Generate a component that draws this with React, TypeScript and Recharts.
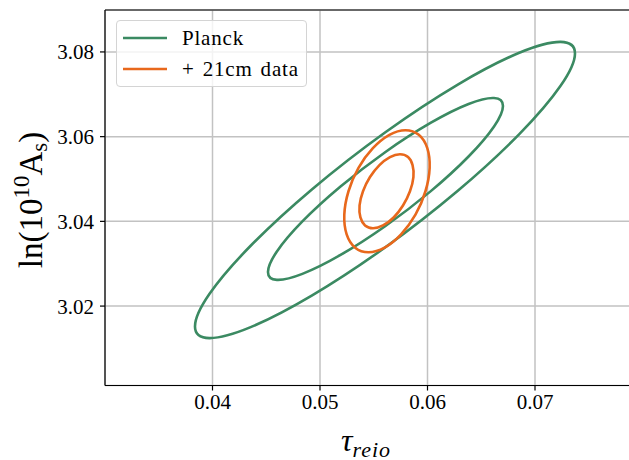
import React from 'react';
import { ComposedChart, Line, XAxis, YAxis, CartesianGrid, ReferenceLine } from 'recharts';

// contour points (tau_reio, ln(10^10 A_s)), walked around each curve
const planck2sigTau = [0.07372, 0.07238, 0.06854, 0.06282, 0.05605, 0.04927, 0.04355, 0.03971, 0.03837, 0.03971, 0.04355, 0.04927, 0.05605, 0.06282, 0.06854, 0.07238];
const planck2sigLnAs = [3.07965, 3.08238, 3.07981, 3.0723, 3.06099, 3.0476, 3.03424, 3.02283, 3.01518, 3.01244, 3.01502, 3.02253, 3.03384, 3.04723, 3.06059, 3.072];

const planck1sigTau = [0.06702, 0.06619, 0.06382, 0.06028, 0.05609, 0.05191, 0.04836, 0.04599, 0.04516, 0.04599, 0.04836, 0.05191, 0.05609, 0.06028, 0.06382, 0.06619];
const planck1sigLnAs = [3.06725, 3.06911, 3.0677, 3.06323, 3.05639, 3.04822, 3.03998, 3.03289, 3.02805, 3.02619, 3.0276, 3.03207, 3.03891, 3.04708, 3.05532, 3.06241];

const cm21_2sigTau = [0.05795, 0.05919, 0.05998, 0.0602, 0.05981, 0.05888, 0.05754, 0.05601, 0.05451, 0.05327, 0.05248, 0.05226, 0.05265, 0.05358, 0.05492, 0.05646];
const cm21_2sigLnAs = [3.06151, 3.06042, 3.05728, 3.05263, 3.04711, 3.04158, 3.03693, 3.03379, 3.0327, 3.03379, 3.03693, 3.04158, 3.04711, 3.05263, 3.05728, 3.06042];

const cm21_1sigTau = [0.05744, 0.05819, 0.05861, 0.05869, 0.05837, 0.05772, 0.05685, 0.05586, 0.05493, 0.05419, 0.05376, 0.05368, 0.054, 0.05465, 0.05553, 0.05651];
const cm21_1sigLnAs = [3.05584, 3.05518, 3.05329, 3.05046, 3.04711, 3.04375, 3.04092, 3.03903, 3.03837, 3.03903, 3.04092, 3.04375, 3.04711, 3.05046, 3.05329, 3.05518];

const xTicks = [0.04, 0.05, 0.06, 0.07];
const yTicks = [3.02, 3.04, 3.06, 3.08];
const xDomain = [0.03, 0.08];
const yDomain = [3.00125, 3.0899];

const GREEN = '#3b8a62';
const ORANGE = '#e8681c';
const FONT = '"Liberation Serif", "Times New Roman", serif';

const toRows = (tau: number[], lnAs: number[]) => tau.map((t, i) => ({ x: t, y: lnAs[i] }));

// closed catmull-rom so the contours come out as smooth loops
const closedCurve = (context: any) => {
  let pts: number[][] = [];
  return {
    areaStart() {},
    areaEnd() {},
    lineStart() { pts = []; },
    point(x: number, y: number) { pts.push([+x, +y]); },
    lineEnd() {
      const n = pts.length;
      if (!n) return;
      context.moveTo(pts[0][0], pts[0][1]);
      for (let i = 0; i < n; i++) {
        const p0 = pts[(i - 1 + n) % n];
        const p1 = pts[i];
        const p2 = pts[(i + 1) % n];
        const p3 = pts[(i + 2) % n];
        context.bezierCurveTo(
          p1[0] + (p2[0] - p0[0]) / 6, p1[1] + (p2[1] - p0[1]) / 6,
          p2[0] - (p3[0] - p1[0]) / 6, p2[1] - (p3[1] - p1[1]) / 6,
          p2[0], p2[1]
        );
      }
      context.closePath();
    },
  };
};

const XTitle = () => (
  <text x={366} y={450.5} textAnchor="middle" fontFamily={FONT} fontStyle="italic" fontSize={32} fill="#000">
    τ<tspan fontSize={22} dy={6} letterSpacing={1}>reio</tspan>
  </text>
);

const YTitle = () => (
  <text transform="translate(42,200) rotate(-90)" textAnchor="middle" fontFamily={FONT} fontSize={33} fill="#000">
    ln(10<tspan fontSize={23} dy={-13}>10</tspan>
    <tspan dy={13}>A</tspan>
    <tspan fontSize={23} dy={5}>s</tspan>
    <tspan dy={-5}>)</tspan>
  </text>
);

const series = [
  { name: 'planck2', rows: toRows(planck2sigTau, planck2sigLnAs), color: GREEN },
  { name: 'planck1', rows: toRows(planck1sigTau, planck1sigLnAs), color: GREEN },
  { name: 'cm21_2', rows: toRows(cm21_2sigTau, cm21_2sigLnAs), color: ORANGE },
  { name: 'cm21_1', rows: toRows(cm21_1sigTau, cm21_1sigLnAs), color: ORANGE },
];

export default function App() {
  const tickStyle = { fontFamily: FONT, fontSize: 21, fill: '#000' };
  return (
    <div style={{ position: 'absolute', left: 0, top: 0, width: 629, height: 460, overflow: 'hidden', background: '#fff' }}>
      <ComposedChart width={700} height={460} margin={{ top: 10, right: 57.5, bottom: 0, left: 0 }}>
        <CartesianGrid stroke="#c2c2c2" strokeWidth={1.5} />
        <XAxis
          dataKey="x"
          type="number"
          domain={xDomain}
          ticks={xTicks}
          allowDataOverflow
          height={74.5}
          tickSize={5}
          tickMargin={4}
          tick={tickStyle}
          tickFormatter={(v: number) => v.toFixed(2)}
          axisLine={{ stroke: '#000', strokeWidth: 1.2 }}
          tickLine={{ stroke: '#000', strokeWidth: 1.2 }}
          label={<XTitle />}
        />
        <YAxis
          dataKey="y"
          type="number"
          domain={yDomain}
          ticks={yTicks}
          allowDataOverflow
          width={105}
          tickSize={5}
          tickMargin={6}
          tick={tickStyle}
          tickFormatter={(v: number) => v.toFixed(2)}
          axisLine={{ stroke: '#000', strokeWidth: 1.2 }}
          tickLine={{ stroke: '#000', strokeWidth: 1.2 }}
          label={<YTitle />}
        />
        <ReferenceLine y={yDomain[1]} stroke="#000" strokeWidth={1.2} />
        {series.map((s) => (
          <Line
            key={s.name}
            data={s.rows}
            dataKey="y"
            type={closedCurve as any}
            stroke={s.color}
            strokeWidth={2.6}
            dot={false}
            activeDot={false}
            legendType="none"
            isAnimationActive={false}
          />
        ))}
      </ComposedChart>
      <div
        style={{
          position: 'absolute', left: 116, top: 20, width: 189, height: 65,
          border: '1px solid #d4d4d4', borderRadius: 4, background: 'rgba(255,255,255,0.8)',
          fontFamily: FONT, fontSize: 21, color: '#000',
        }}
      >
        {[{ label: 'Planck', color: GREEN }, { label: '+ 21cm data', color: ORANGE }].map((e, i) => (
          <div key={e.label} style={{ position: 'absolute', left: 0, top: 4 + i * 31, height: 26, display: 'flex', alignItems: 'center' }}>
            <svg width={60} height={26} style={{ display: 'block' }}>
              <line x1={6} x2={50} y1={13} y2={13} stroke={e.color} strokeWidth={2.6} />
            </svg>
            <span style={{ marginLeft: 5, letterSpacing: 0.8, wordSpacing: 2, whiteSpace: 'nowrap' }}>{e.label}</span>
          </div>
        ))}
      </div>
    </div>
  );
}
